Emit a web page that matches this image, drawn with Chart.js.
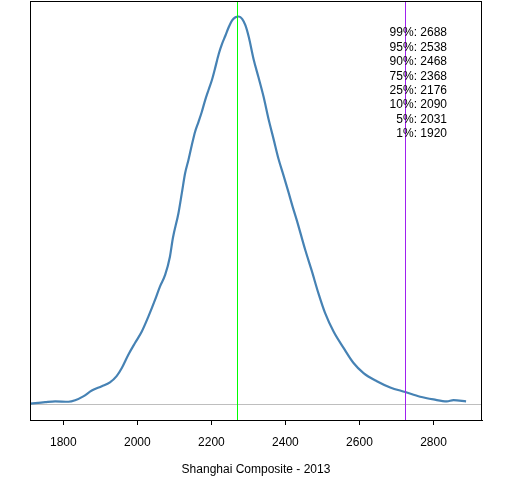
<!DOCTYPE html>
<html>
<head>
<meta charset="utf-8">
<script src="https://cdn.jsdelivr.net/npm/chart.js@4"></script>
<style>
  html,body{margin:0;padding:0;background:#fff;}
  canvas{display:block;}
</style>
</head>
<body>
<canvas id="chart-dens" width="512" height="480"></canvas>
<script>
// density of the index (peak scaled to 1)
const densX=[1711,1751,1778,1814,1832,1854,1877,1904,1926,1944,1958,1976,1994,2012,2030,2048,2061,2075,2088,2096,2111,2120,2129,2138,2147,2156,2165,2174,2183,2192,2201,2209,2220,2229,2238,2247,2256,2265,2274,2283,2292,2301,2314,2327,2341,2354,2368,2381,2395,2408,2420,2431,2453,2471,2489,2507,2530,2557,2584,2611,2647,2683,2724,2764,2800,2836,2854,2888];
const densY=[0.002,0.006,0.008,0.007,0.011,0.021,0.036,0.047,0.057,0.073,0.094,0.129,0.159,0.188,0.227,0.270,0.304,0.334,0.381,0.429,0.493,0.544,0.596,0.630,0.668,0.703,0.728,0.754,0.784,0.810,0.835,0.863,0.904,0.930,0.951,0.973,0.990,0.998,1.000,0.994,0.977,0.947,0.890,0.844,0.793,0.737,0.684,0.634,0.590,0.548,0.508,0.474,0.400,0.345,0.287,0.236,0.188,0.146,0.107,0.081,0.060,0.044,0.032,0.020,0.013,0.008,0.011,0.008];
const xTicks=[1800,2000,2200,2400,2600,2800];
const quantLabels=['99%','95%','90%','75%','25%','10%','5%','1%'];
const quantVals=[2688,2538,2468,2368,2176,2090,2031,1920];
const modeX=2270;
const markX=2724;
const xMin=1710, xMax=2931;
const yMin=-0.04, yMax=1.04;

const ctx=document.getElementById('chart-dens');
const densPts=densX.map((x,i)=>({x:x,y:densY[i]}));
const FONT='Arial, "Liberation Sans", sans-serif';

function px(v){return Math.round(v)+0.5;}

const refLines={
  id:'refLines',
  beforeDatasetsDraw(chart){
    // zero baseline under the curve
    const c=chart.ctx, a=chart.chartArea, y=chart.scales.y.getPixelForValue(0);
    c.save();
    c.strokeStyle='#BEBEBE';c.lineWidth=1;
    c.beginPath();c.moveTo(a.left,px(y));c.lineTo(a.right,px(y));c.stroke();
    c.restore();
  },
  afterDatasetsDraw(chart){
    const c=chart.ctx, a=chart.chartArea, sx=chart.scales.x;
    c.save();
    c.lineWidth=1;
    [[modeX,'#00FF00'],[markX,'#A020F0']].forEach(([v,col])=>{
      const x=px(sx.getPixelForValue(v));
      c.strokeStyle=col;
      c.beginPath();c.moveTo(x,a.top);c.lineTo(x,a.bottom);c.stroke();
    });
    c.restore();
  },
  afterDraw(chart){
    const c=chart.ctx, a=chart.chartArea;
    c.save();
    c.strokeStyle='#000';
    c.lineWidth=1;
    c.strokeRect(px(a.left),px(a.top),Math.round(a.right-a.left)-1,Math.round(a.bottom-a.top));
    c.fillStyle='#000';
    c.font='12px '+FONT;
    c.textAlign='right';
    c.textBaseline='middle';
    quantLabels.forEach((q,i)=>{
      c.fillText(q+': '+quantVals[i],a.right-35,a.top+32+i*14.4);
    });
    c.restore();
  }
};

new Chart(ctx,{
  type:'line',
  data:{datasets:[
    {data:densPts,borderColor:'#4682B4',borderWidth:2.2,pointRadius:0,cubicInterpolationMode:'monotone'}
  ]},
  options:{
    responsive:false,
    animation:false,
    devicePixelRatio:1,
    layout:{padding:{left:30,right:30,top:1,bottom:0}},
    plugins:{legend:{display:false},tooltip:{enabled:false}},
    scales:{
      x:{
        type:'linear',min:xMin,max:xMax,
        afterBuildTicks:s=>{s.ticks=xTicks.map(v=>({value:v}));},
        afterFit:s=>{s.height=60;},
        grid:{drawOnChartArea:false,tickLength:5,color:'#000'},
        border:{display:true,color:'#000'},
        ticks:{color:'#000',padding:10,maxRotation:0,autoSkip:false,callback:v=>String(v),font:{family:FONT,size:12}},
        title:{display:true,text:'Shanghai Composite - 2013',color:'#000',padding:{top:0,bottom:3},font:{family:FONT,size:12}}
      },
      y:{type:'linear',min:yMin,max:yMax,display:false}
    }
  },
  plugins:[refLines]
});
</script>
</body>
</html>
